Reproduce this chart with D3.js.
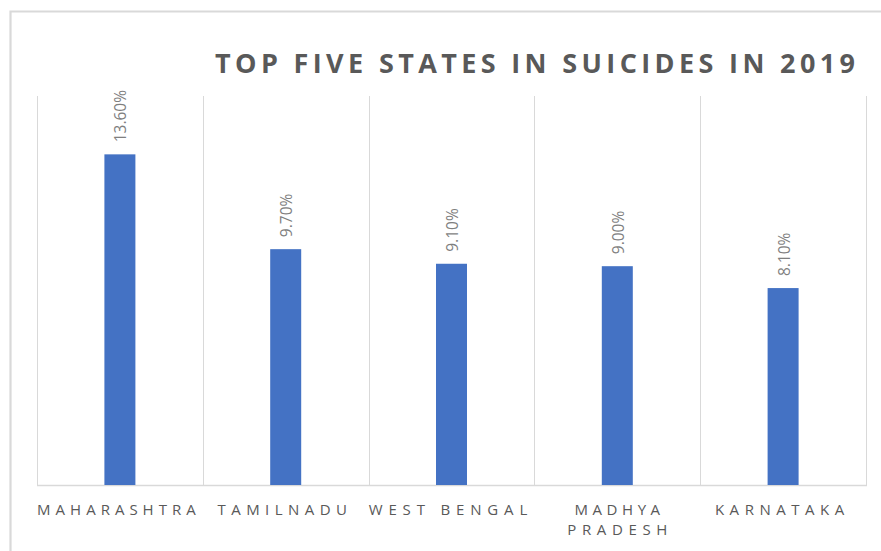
<!DOCTYPE html>
<html>
<head>
<meta charset="utf-8">
<script src="https://cdn.jsdelivr.net/npm/d3@7"></script>
<style>
  html, body { margin: 0; padding: 0; background: #fff; }
  svg { display: block; }
</style>
</head>
<body>
<svg id="chart" width="881" height="551"></svg>
<script>
const categories = ["MAHARASHTRA", "TAMILNADU", "WEST BENGAL", "MADHYA PRADESH", "KARNATAKA"];
const values = [13.6, 9.7, 9.1, 9.0, 8.1];
const valueLabels = ["13.60%", "9.70%", "9.10%", "9.00%", "8.10%"];
const title = "TOP FIVE STATES IN SUICIDES IN 2019";

const svg = d3.select("#chart");
const W = 881, H = 551;
const plot = { left: 37, right: 866, top: 96, bottom: 485 };
const font = "'Open Sans', 'DejaVu Sans', sans-serif";

// chart border (cut off on right & bottom)
svg.append("path")
  .attr("d", `M10.5,${H + 5} L10.5,11.5 L${W + 5},11.5`)
  .attr("fill", "none").attr("stroke", "#d9d9d9").attr("stroke-width", 2.2);

const x = d3.scaleBand().domain(categories).range([plot.left, plot.right]).padding(0);
const y = d3.scaleLinear().domain([0, 16]).range([plot.bottom, plot.top]);

// vertical gridlines at category boundaries
const bounds = categories.map(c => x(c)).concat([plot.right]);
svg.append("g").selectAll("line").data(bounds).join("line")
  .attr("x1", d => Math.round(d) + 0.5).attr("x2", d => Math.round(d) + 0.5)
  .attr("y1", plot.top).attr("y2", plot.bottom)
  .attr("stroke", "#d9d9d9").attr("stroke-width", 1);

// baseline
svg.append("line")
  .attr("x1", plot.left).attr("x2", plot.right + 1)
  .attr("y1", plot.bottom + 0.5).attr("y2", plot.bottom + 0.5)
  .attr("stroke", "#d9d9d9").attr("stroke-width", 1.5);

// bars
const barW = 31;
svg.append("g").selectAll("rect").data(values).join("rect")
  .attr("x", (d, i) => x(categories[i]) + x.bandwidth() / 2 - barW / 2)
  .attr("width", barW)
  .attr("y", d => y(d))
  .attr("height", d => plot.bottom - y(d))
  .attr("fill", "#4472c4");

// data labels, rotated
svg.append("g").selectAll("text").data(values).join("text")
  .attr("transform", (d, i) => `translate(${x(categories[i]) + x.bandwidth() / 2 + 1},${y(d) - 12}) rotate(-90)`)
  .attr("dy", "0.35em")
  .attr("text-anchor", "start")
  .attr("font-family", font)
  .attr("font-size", 15.5)
  .attr("fill", "#7f7f7f")
  .text((d, i) => valueLabels[i]);

// category labels (spaced out like the original)
const lines = { "MADHYA PRADESH": ["MADHYA", "PRADESH"] };
const catG = svg.append("g");
categories.forEach(c => {
  const ls = lines[c] || [c];
  ls.forEach((t, k) => {
    const el = catG.append("text")
      .attr("x", x(c) + x.bandwidth() / 2 - (ls.length > 1 ? 0 : 3.5))
      .attr("y", 515 + k * 20)
      .attr("text-anchor", "middle")
      .attr("font-family", font)
      .attr("font-size", 15)
      .attr("fill", "#595959")
      .text(t);
    // stretch spacing so the word spans ~15px per glyph like the reference
    const n = t.length;
    el.attr("textLength", n * 14.6 - 2).attr("lengthAdjust", "spacing");
  });
});

// title
svg.append("text")
  .attr("x", 215).attr("y", 73)
  .attr("font-family", font)
  .attr("font-size", 27)
  .attr("font-weight", "bold")
  .attr("fill", "#595959")
  .attr("textLength", 640)
  .attr("lengthAdjust", "spacing")
  .text(title);
</script>
</body>
</html>
